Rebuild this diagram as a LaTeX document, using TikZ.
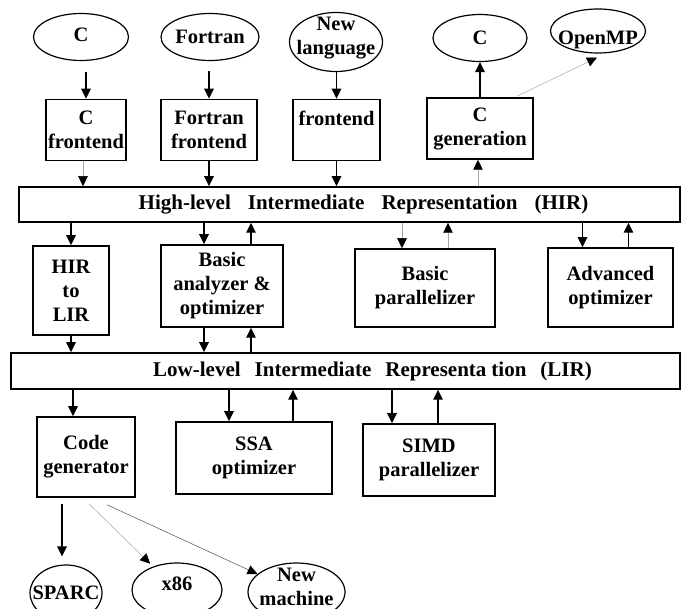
\documentclass[tikz,border=0pt]{standalone}
\usepackage{fontspec}
\setmainfont{Liberation Serif}
\usetikzlibrary{calc,shapes.geometric,arrows.meta}

\tikzset{
  box/.style={draw, line width=1.5pt, align=center, inner sep=0pt},
  ell/.style={ellipse, draw, line width=1.2pt, inner sep=0pt},
  arr/.style={line width=1.4pt, -{Triangle[length=10pt,width=9.5pt]}},
  thinarr/.style={line width=0.5pt, gray!70, -{Triangle[length=10pt,width=9.5pt,color=black]}},
  barfont/.style={font=\fontsize{21}{24}\selectfont\bfseries}
}

\begin{document}
\begin{tikzpicture}[x=1pt, y=-1pt, font=\fontsize{20.5}{24}\selectfont\bfseries]
  \useasboundingbox (0,0) rectangle (683,609);
  \clip (0,0) rectangle (683,609);

  % source languages
  \node[ell, minimum width=95pt, minimum height=47pt, label={[yshift=2pt]center:C}] (cin) at (81,37) {};
  \node[ell, minimum width=98pt, minimum height=47pt, label={center:Fortran}] (fin) at (210,37) {};
  \node[ell, minimum width=93pt, minimum height=59pt, label={[yshift=4pt,align=center]center:New\\language}] (nin) at (336,42) {};
  \node[ell, minimum width=94pt, minimum height=47pt, label={center:C}] (cout) at (480,38) {};
  \node[ell, minimum width=95pt, minimum height=44pt, label={[yshift=-9pt]center:OpenMP}] (omp) at (598,31) {};

  % frontends
  \node[box, minimum width=80pt, minimum height=61pt] (cfe) at (86,130) {C\\frontend};
  \node[box, minimum width=96pt, minimum height=61pt] (ffe) at (209,130) {Fortran\\frontend};
  \node[box, minimum width=87pt, minimum height=61pt] (nfe) at (336.5,130) {frontend\\\mbox{}};
  \node[box, minimum width=106pt, minimum height=61pt] (cgen) at (480,128.5) {C\\generation};

  % HIR
  \node[box, minimum width=661pt, minimum height=35pt,
    label={[barfont,xshift=14pt]center:High-level\hspace{17pt}Intermediate\hspace{17pt}Representation\hspace{17pt}(HIR)}] (hir) at (349.5,204.5) {};

  \node[box, minimum width=76pt, minimum height=89pt] (h2l) at (71,290.5) {HIR\\to\\LIR};
  \node[box, minimum width=122pt, minimum height=82pt] (bana) at (222,286) {Basic\\analyzer \&\\optimizer};
  \node[box, minimum width=140pt, minimum height=78pt] (bpar) at (425,288) {Basic\\parallelizer};
  \node[box, minimum width=125pt, minimum height=79pt] (aopt) at (610.5,287.5) {Advanced\\optimizer};

  % LIR
  \node[box, minimum width=669pt, minimum height=36pt,
    label={[barfont,xshift=27pt]center:Low-level\hspace{14pt}Intermediate\hspace{14pt}Representa\hspace{5pt}tion\hspace{14pt}(LIR)}] (lir) at (345.5,371) {};

  \node[box, minimum width=98pt, minimum height=80pt] (cg) at (86,457) {Code\\generator};
  \node[box, minimum width=156pt, minimum height=72pt] (ssa) at (254,458) {SSA\\optimizer};
  \node[box, minimum width=132pt, minimum height=72pt] (simd) at (429,460) {SIMD\\parallelizer};

  % targets
  \node[ell, minimum width=72pt, minimum height=56pt, label={center:SPARC}] (sparc) at (66,593) {};
  \node[ell, minimum width=90pt, minimum height=54pt, label={[yshift=6pt]center:x86}] (x86) at (177,590) {};
  \node[ell, minimum width=97pt, minimum height=58pt, label={[yshift=5pt,align=center]center:New\\machine}] (nm) at (296.5,592) {};

  % connectors
  \draw[arr, shorten <=11pt] (cin.south -| cfe.north) -- (cfe.north);
  \draw[arr, shorten <=10pt] (fin.south -| ffe.north) -- (ffe.north);
  \draw[arr] (nin.south -| nfe.north) -- (nfe.north);
  \draw[thinarr] ($(cfe.south)+(-3,0)$) -- ($(hir.north -| cfe.south)+(-3,0)$);
  \draw[arr] (ffe.south) -- (hir.north -| ffe.south);
  \draw[arr] (nfe.south) -- (hir.north -| nfe.south);
  \draw[thinarr] ($(hir.north -| cgen.south)+(-2,0)$) -- ($(cgen.south)+(-2,0)$);
  \draw[arr] (cgen.north) -- (cout.south);
  \draw[thinarr] ($(cgen.north)+(37,-1)$) -- ($(omp.south)+(-1,4)$);

  \draw[arr] (hir.south -| h2l.north) -- (h2l.north);
  \draw[arr] ($(hir.south -| bana.north)+(-18,0)$) -- ($(bana.north)+(-18,0)$);
  \draw[arr] ($(bana.north)+(29,0)$) -- ($(hir.south -| bana.north)+(29,0)$);
  \draw[thinarr] ($(hir.south -| bpar.north)+(-23,0)$) -- ($(bpar.north)+(-23,0)$);
  \draw[thinarr] ($(bpar.north)+(23,0)$) -- ($(hir.south -| bpar.north)+(23,0)$);
  \draw[arr] ($(hir.south -| aopt.north)+(-28,0)$) -- ($(aopt.north)+(-28,0)$);
  \draw[arr] ($(aopt.north)+(18,0)$) -- ($(hir.south -| aopt.north)+(18,0)$);

  \draw[arr] (h2l.south) -- (lir.north -| h2l.south);
  \draw[arr] ($(bana.south)+(-18,0)$) -- ($(lir.north -| bana.south)+(-18,0)$);
  \draw[arr] ($(lir.north -| bana.south)+(29,0)$) -- ($(bana.south)+(29,0)$);

  \draw[arr] ($(lir.south -| cg.north)+(-13,0)$) -- ($(cg.north)+(-13,0)$);
  \draw[arr] ($(lir.south -| ssa.north)+(-25,0)$) -- ($(ssa.north)+(-25,0)$);
  \draw[arr] ($(ssa.north)+(39,0)$) -- ($(lir.south -| ssa.north)+(39,0)$);
  \draw[arr] ($(lir.south -| simd.north)+(-37,0)$) -- ($(simd.north)+(-37,0)$);
  \draw[arr] ($(simd.north)+(9,0)$) -- ($(lir.south -| simd.north)+(9,0)$);

  \draw[arr, shorten <=6pt, shorten >=8pt] ($(cg.south -| sparc.north)+(-4,0)$) -- ($(sparc.north)+(-4,0)$);
  \draw[thinarr, shorten >=4pt] ($(cg.south)+(3,6)$) -- (x86);
  \draw[thinarr, black!70] ($(cg.south)+(21,7)$) -- (nm);
\end{tikzpicture}
\end{document}
